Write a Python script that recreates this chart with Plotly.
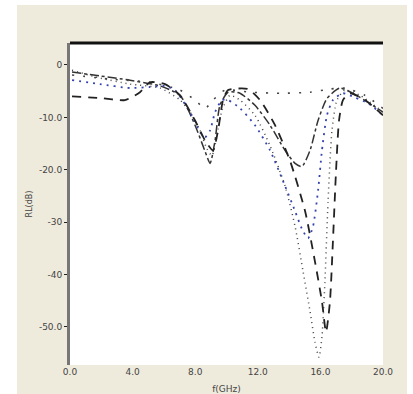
import plotly.graph_objects as go

# ---- data ----
c1_x = [0.13, 1.92, 3.83, 5.75, 7.03, 7.99, 8.63, 8.95, 9.27, 9.58, 10.1, 10.86, 11.82, 12.78, 13.74, 14.38, 14.82, 15.34, 15.85, 16.42, 17.25, 18.53, 20.0]
c1_y = [-1.35, -2.1, -2.9, -4.0, -5.8, -11.5, -16.5, -18.8, -14.4, -7.7, -5.2, -5.4, -7.7, -11.5, -16.3, -18.8, -19.4, -16.3, -10.6, -6.4, -4.4, -6.2, -9.0]

c2_x = [0.13, 1.92, 3.83, 5.11, 6.07, 6.71, 7.35, 7.86, 8.31, 8.63, 8.95, 9.27, 9.71, 10.1, 10.87, 11.82, 12.78, 13.74, 14.38, 14.82, 15.21, 15.53, 15.85, 16.1, 16.42, 16.8, 17.44, 18.2, 19.04, 20.0]
c2_y = [-2.9, -3.65, -4.4, -4.2, -4.0, -4.8, -7.5, -10.0, -12.9, -13.8, -12.5, -9.0, -6.7, -6.7, -8.3, -11.5, -16.3, -23.1, -27.9, -31.3, -33.1, -30.8, -24.0, -16.3, -9.6, -6.7, -5.4, -6.2, -7.3, -9.6]

c3_x = [0.13, 1.92, 3.83, 5.75, 7.03, 7.67, 8.31, 8.75, 9.07, 9.39, 9.71, 10.22, 10.86, 11.82, 12.78, 13.74, 14.38, 14.89, 15.34, 15.65, 15.91, 16.1, 16.29, 16.49, 16.74, 17.06, 17.57, 18.53, 20.0]
c3_y = [-1.0, -2.5, -3.65, -4.4, -6.7, -9.0, -12.5, -16.0, -17.3, -13.5, -8.7, -5.8, -6.7, -9.6, -15.4, -23.1, -30.8, -39.4, -47.1, -52.9, -55.8, -51.9, -41.3, -26.0, -12.5, -6.7, -4.8, -5.8, -9.0]

c4_x = [0.13, 1.92, 3.51, 4.47, 5.11, 6.07, 7.03, 7.99, 8.63, 9.14, 9.46, 9.78, 10.1, 11.37, 12.14, 13.1, 14.06, 15.02, 15.65, 16.1, 16.36, 16.61, 16.8, 17.0, 17.19, 17.44, 17.89, 18.85, 20.0]
c4_y = [-6.0, -6.3, -6.7, -5.2, -3.3, -3.65, -5.8, -10.6, -14.4, -16.3, -12.5, -6.7, -4.8, -4.6, -6.7, -11.5, -18.3, -27.9, -37.5, -45.2, -51.0, -45.2, -33.7, -20.2, -10.6, -6.7, -5.4, -6.7, -9.6]

c5_x = [0.13, 2.56, 5.11, 7.03, 7.99, 8.63, 9.14, 9.9, 11.5, 13.42, 15.34, 16.61, 17.57, 18.85, 20.0]
c5_y = [-1.9, -2.7, -3.3, -4.8, -6.7, -8.3, -6.7, -4.8, -5.2, -5.4, -5.2, -4.6, -4.4, -5.8, -8.3]

x_ticks = [0, 4, 8, 12, 16, 20]
x_tick_labels = ["0.0", "4.0", "8.0", "12.0", "16.0", "20.0"]
y_ticks = [0, -10, -20, -30, -40, -50]
y_tick_labels = ["0", "-10.0", "-20.0", "-30", "-40", "-50.0"]

fig = go.Figure()
series = [
    (c1_x, c1_y, "#333333", "dashdot", 1.5),
    (c5_x, c5_y, "#444444", "2px,9px", 1.6),
    (c2_x, c2_y, "#3344b0", "2px,5px", 1.8),
    (c3_x, c3_y, "#444444", "1px,4px", 1.5),
    (c4_x, c4_y, "#222222", "9px,7px", 1.8),
]
for xs, ys, col, dash, w in series:
    fig.add_trace(go.Scatter(x=xs, y=ys, mode="lines", line=dict(color=col, dash=dash, width=w, shape="spline", smoothing=0.6), showlegend=False))

L, R, T, B = 70, 30, 43, 29
W, H = 413, 394
pw, ph = W - L - R, H - T - B

def px2x(p):
    return (p - L) / pw

def py2y(p):
    return (H - B - p) / ph

shapes = [
    dict(type="line", xref="paper", yref="paper", x0=0, x1=1, y0=1, y1=1, line=dict(color="#111111", width=3)),
    dict(type="rect", xref="paper", yref="paper", x0=px2x(0), x1=px2x(17), y0=py2y(H + 2), y1=py2y(0), fillcolor="white", line=dict(width=0), layer="below"),
    dict(type="rect", xref="paper", yref="paper", x0=px2x(407), x1=px2x(W), y0=py2y(H + 2), y1=py2y(0), fillcolor="white", line=dict(width=0), layer="below"),
    dict(type="rect", xref="paper", yref="paper", x0=px2x(0), x1=px2x(W), y0=py2y(5), y1=py2y(0), fillcolor="white", line=dict(width=0), layer="below"),
]

fig.update_layout(
    width=W, height=H,
    margin=dict(l=L, r=R, t=T, b=B),
    paper_bgcolor="#efebdc",
    plot_bgcolor="white",
    shapes=shapes,
    font=dict(family="DejaVu Sans", size=9, color="#444444"),
    xaxis=dict(range=[0, 20], tickvals=x_ticks, ticktext=x_tick_labels, showgrid=False, zeroline=False,
               automargin=False, showline=False, ticks="",
               title=dict(text="f(GHz)", font=dict(size=9), standoff=10)),
    yaxis=dict(range=[-57.3, 4.2], tickvals=y_ticks, ticktext=y_tick_labels, showgrid=False, zeroline=False,
               automargin=False, showline=True, linecolor="#777777", linewidth=3, ticks="outside", ticklen=3,
               tickcolor="#222222", title=dict(text="RL(dB)", font=dict(size=8), standoff=6)),
)

fig.write_html("out.html")
